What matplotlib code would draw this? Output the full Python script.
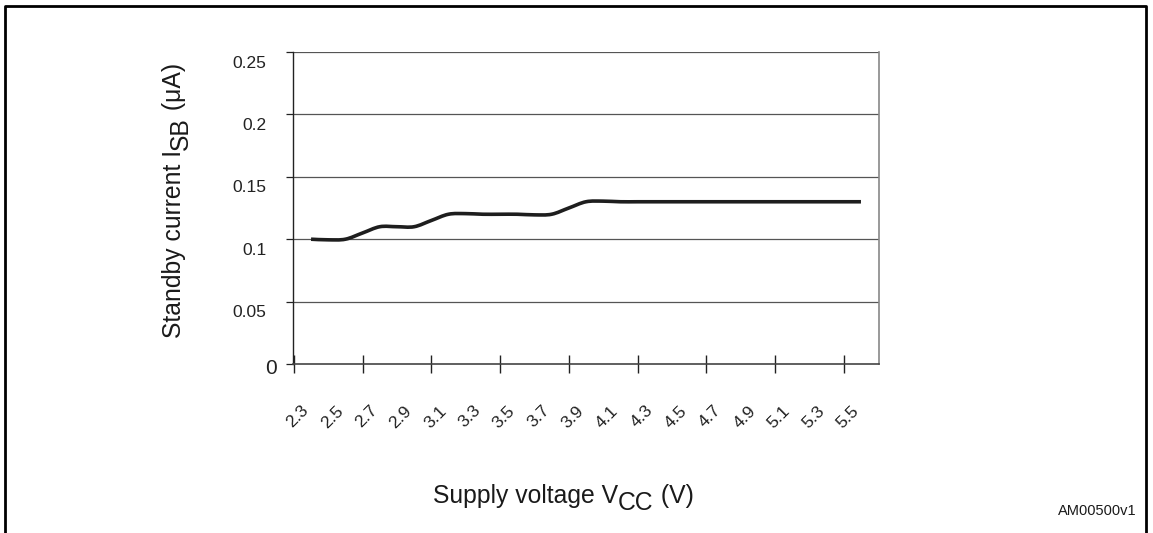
import matplotlib
matplotlib.use('Agg')
import matplotlib.pyplot as plt
from matplotlib.lines import Line2D
from matplotlib.path import Path
from matplotlib.patches import PathPatch
from matplotlib.transforms import ScaledTranslation
import numpy as np

plt.rcParams['font.family'] = ['Liberation Sans', 'DejaVu Sans']

# supply voltage (V) and standby current (uA)
vcc = [2.3, 2.4, 2.5, 2.6, 2.7, 2.8, 2.9, 3.0, 3.1, 3.2, 3.3,
       3.4, 3.5, 3.6, 3.7, 3.8, 3.9, 4.0, 4.1, 4.2, 4.3, 4.4,
       4.5, 4.6, 4.7, 4.8, 4.9, 5.0, 5.1, 5.2, 5.3, 5.4, 5.5]
isb = [0.100, 0.0995, 0.100, 0.105, 0.110, 0.110, 0.110, 0.115, 0.120, 0.1205, 0.120,
       0.120, 0.120, 0.1195, 0.120, 0.125, 0.130, 0.1305, 0.130, 0.130, 0.130, 0.130,
       0.130, 0.130, 0.130, 0.130, 0.130, 0.130, 0.130, 0.130, 0.130, 0.130, 0.130]

x_labels = ['2.3', '2.5', '2.7', '2.9', '3.1', '3.3', '3.5', '3.7', '3.9',
            '4.1', '4.3', '4.5', '4.7', '4.9', '5.1', '5.3', '5.5']
y_ticks = [0, 0.05, 0.1, 0.15, 0.2, 0.25]
y_labels = ['0', '0.05', '0.1', '0.15', '0.2', '0.25']

W, H = 1153, 533
fig = plt.figure(figsize=(W / 100, H / 100), dpi=100)
ax = fig.add_axes([293 / W, 1 - 364 / H, 586 / W, 312 / H])

# smoothed line like the spreadsheet "smoothed line" option (bezier through the points)
x = np.array(vcc)
y = np.array(isb)
verts = [(x[0], y[0])]
codes = [Path.MOVETO]
for i in range(len(x) - 1):
    x0, y0 = (x[i - 1], y[i - 1]) if i > 0 else (x[i], y[i])
    x3, y3 = (x[i + 2], y[i + 2]) if i + 2 < len(x) else (x[i + 1], y[i + 1])
    c1 = (x[i] + (x[i + 1] - x0) / 6, y[i] + (y[i + 1] - y0) / 6)
    c2 = (x[i + 1] - (x3 - x[i]) / 6, y[i + 1] - (y3 - y[i]) / 6)
    verts += [c1, c2, (x[i + 1], y[i + 1])]
    codes += [Path.CURVE4] * 3
ax.add_patch(PathPatch(Path(verts, codes), facecolor='none', edgecolor='#1e1e1e',
                       linewidth=2.6, capstyle='butt', zorder=3))

ax.set_xlim(2.195, 5.605)
ax.set_ylim(0, 0.25)

for yv in y_ticks[1:]:
    ax.axhline(yv, color='#555555', linewidth=0.9, zorder=1)

ax.spines['top'].set_visible(False)
ax.spines['right'].set_color('#888888')
ax.spines['right'].set_linewidth(1.2)
ax.spines['left'].set_color('#222222')
ax.spines['bottom'].set_color('#444444')
ax.spines['left'].set_linewidth(1.0)
ax.spines['bottom'].set_linewidth(1.2)

ax.set_yticks(y_ticks)
ax.set_yticklabels(y_labels, fontsize=12.5, color='#222222')
ax.tick_params(axis='y', direction='out', length=5, width=0.9, pad=14, color='#222222')
# the value labels sit a little below their ticks
for k, lab in enumerate(ax.get_yticklabels()):
    if k == 0:
        lab.set_fontsize(15)
        shift = ScaledTranslation(0.10, -0.03, fig.dpi_scale_trans)
    else:
        shift = ScaledTranslation(0, -0.095, fig.dpi_scale_trans)
    lab.set_transform(lab.get_transform() + shift)

ax.set_xticks([float(s) for s in x_labels])
ax.set_xticklabels(x_labels, fontsize=12.5, rotation=45, ha='right', va='top',
                   rotation_mode='anchor', color='#222222')
ax.tick_params(axis='x', which='major', length=0, pad=28)
for lab in ax.get_xticklabels():
    lab.set_transform(lab.get_transform() + ScaledTranslation(-0.10, 0, fig.dpi_scale_trans))
ax.set_xticks(np.arange(2.2, 5.45, 0.4), minor=True)
ax.tick_params(axis='x', which='minor', direction='inout', length=13, width=1.0,
               color='#222222')

# axis titles with full size, lowered subscripts
renderer = fig.canvas.get_renderer()
TS = 17.8
DROP = 7


def text_len(s):
    t = fig.text(0, 0, s, fontsize=TS)
    w = t.get_window_extent(renderer).width
    t.remove()
    return w


def multi_text(pieces, px, py, vertical=False):
    pos = 0
    for s, low in pieces:
        off = DROP if low else 0
        if vertical:
            fig.text((px + off) / W, 1 - (py - pos) / H, s, fontsize=TS, rotation=90,
                     rotation_mode='anchor', ha='left', va='baseline', color='#1a1a1a')
        else:
            fig.text((px + pos) / W, 1 - (py + off) / H, s, fontsize=TS,
                     ha='left', va='baseline', color='#1a1a1a')
        pos += text_len(s)


multi_text([('Supply voltage V', False), ('CC', True), (' (V)', False)], 433, 503)
multi_text([('Standby current I', False), ('SB', True), (' (μA)', False)], 181, 338,
           vertical=True)

fig.text(1097 / W, 1 - 511 / H, 'AM00500v1', fontsize=10.5, ha='center', va='center',
         color='#1a1a1a')

# outer frame
fx0, fx1, fy1 = 5 / W, 1146 / W, 1 - 6 / H
fig.add_artist(Line2D([fx0, fx0, fx1, fx1], [0, fy1, fy1, 0], color='black',
                      linewidth=2, transform=fig.transFigure))

fig.savefig('out.png', dpi=100)
